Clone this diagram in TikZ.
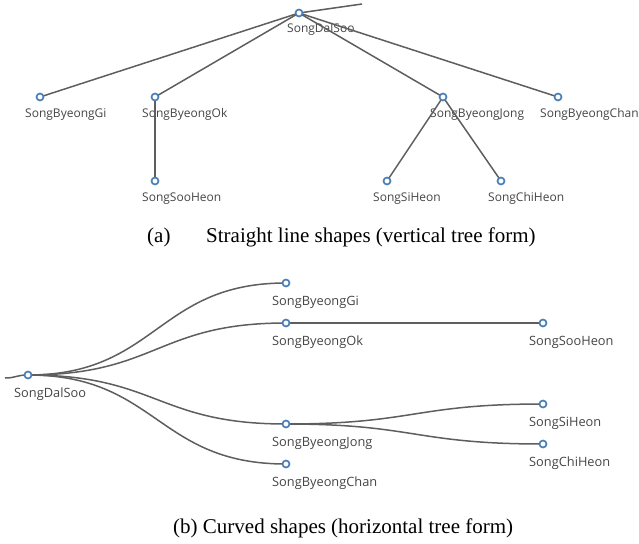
\documentclass[tikz,border=0pt]{standalone}
\usepackage{fontspec}
\setmainfont{Liberation Serif}
\newfontfamily\lblfont{Open Sans}
\usetikzlibrary{backgrounds}
\definecolor{dotblue}{HTML}{4A7FB5}
\definecolor{linegray}{HTML}{5E5E5E}
\definecolor{lblgray}{HTML}{454545}
\begin{document}
\begin{tikzpicture}[x=1pt,y=-1pt,
  dot/.style={circle,draw=dotblue,fill=white,line width=1.7pt,minimum size=7pt,inner sep=0pt},
  link/.style={draw=linegray,line width=1.5pt},
  lbl/.style={anchor=base west,inner sep=0pt,text=lblgray,font=\lblfont\fontsize{12}{14}\selectfont},
  lblb/.style={lbl,font=\lblfont\fontsize{12.8}{15}\selectfont},
  captxt/.style={anchor=base west,inner sep=0pt,font=\fontsize{21}{25}\selectfont}]
\useasboundingbox (0,0) rectangle (639,543);
% ---------- (a) vertical tree ----------
\node[dot] (a0) at (299,13) {};
\node[dot] (a1) at (40,97) {};
\node[dot] (a2) at (155,97) {};
\node[dot] (a3) at (443,97) {};
\node[dot] (a4) at (558,97) {};
\node[dot] (a5) at (155,181) {};
\node[dot] (a6) at (387,181) {};
\node[dot] (a7) at (501,181) {};
\coordinate (ap) at (362,4);
% ---------- (b) horizontal tree ----------
\node[dot] (b0) at (28,375) {};
\node[dot] (b1) at (286,283) {};
\node[dot] (b2) at (286,323) {};
\node[dot] (b3) at (286,424) {};
\node[dot] (b4) at (286,464) {};
\node[dot] (b5) at (543,323) {};
\node[dot] (b6) at (543,404) {};
\node[dot] (b7) at (543,444) {};
\coordinate (bp) at (5,378);
\begin{scope}[on background layer]
  % labels (a)
  \node[lbl] (a0t) at ([xshift=-12pt,yshift=-20pt]a0.center) {SongDalSoo};
  \node[lbl] (a1t) at ([xshift=-15pt,yshift=-20pt]a1.center) {SongByeongGi};
  \node[lbl] (a2t) at ([xshift=-13pt,yshift=-20pt]a2.center) {SongByeongOk};
  \node[lbl] (a3t) at ([xshift=-13pt,yshift=-20pt]a3.center) {SongByeongJong};
  \node[lbl] (a4t) at ([xshift=-18pt,yshift=-20pt]a4.center) {SongByeongChan};
  \node[lbl] (a5t) at ([xshift=-13pt,yshift=-20pt]a5.center) {SongSooHeon};
  \node[lbl] (a6t) at ([xshift=-14pt,yshift=-20pt]a6.center) {SongSiHeon};
  \node[lbl] (a7t) at ([xshift=-13pt,yshift=-20pt]a7.center) {SongChiHeon};
  % labels (b)
  \node[lblb] (b0t) at ([xshift=-14pt,yshift=-22pt]b0.center) {SongDalSoo};
  \node[lblb] (b1t) at ([xshift=-14pt,yshift=-22pt]b1.center) {SongByeongGi};
  \node[lblb] (b2t) at ([xshift=-14pt,yshift=-22pt]b2.center) {SongByeongOk};
  \node[lblb] (b3t) at ([xshift=-14pt,yshift=-22pt]b3.center) {SongByeongJong};
  \node[lblb] (b4t) at ([xshift=-14pt,yshift=-22pt]b4.center) {SongByeongChan};
  \node[lblb] (b5t) at ([xshift=-14pt,yshift=-22pt]b5.center) {SongSooHeon};
  \node[lblb] (b6t) at ([xshift=-14pt,yshift=-22pt]b6.center) {SongSiHeon};
  \node[lblb] (b7t) at ([xshift=-14pt,yshift=-22pt]b7.center) {SongChiHeon};
  % connectors (a)
  \draw[link] (a0.center) -- (ap);
  \draw[link] (a0.center) -- (a1.center);
  \draw[link] (a0.center) -- (a2.center);
  \draw[link] (a0.center) -- (a3.center);
  \draw[link] (a0.center) -- (a4.center);
  \draw[link] (a2.center) -- (a5.center);
  \draw[link] (a3.center) -- (a6.center);
  \draw[link] (a3.center) -- (a7.center);
  % connectors (b)
  \draw[link] (bp) .. controls (16,378) and (16,375) .. (b0.center);
  \draw[link] (b0.center) .. controls (157,375) and (157,283) .. (b1.center);
  \draw[link] (b0.center) .. controls (157,375) and (157,323) .. (b2.center);
  \draw[link] (b0.center) .. controls (157,375) and (157,424) .. (b3.center);
  \draw[link] (b0.center) .. controls (157,375) and (157,464) .. (b4.center);
  \draw[link] (b2.center) -- (b5.center);
  \draw[link] (b3.center) .. controls (414.5,424) and (414.5,404) .. (b6.center);
  \draw[link] (b3.center) .. controls (414.5,424) and (414.5,444) .. (b7.center);
\end{scope}
% captions
\node[captxt] (capa) at (147,242) {(a)};
\node[captxt] (capa2) at (206,242) {Straight line shapes (vertical tree form)};
\node[captxt] (capb) at (173,533) {(b) Curved shapes (horizontal tree form)};
\end{tikzpicture}
\end{document}
